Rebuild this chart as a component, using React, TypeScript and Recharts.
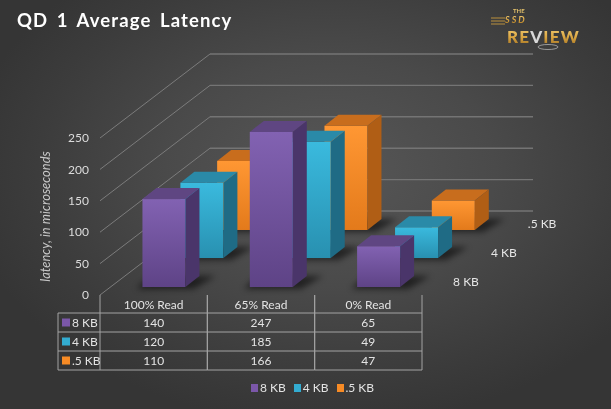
import { ComposedChart, Bar, XAxis, YAxis, CartesianGrid } from "recharts";

const categories = ["100% Read", "65% Read", "0% Read"];
const kb8 = [140, 247, 65];
const kb4 = [120, 185, 49];
const kbHalf = [110, 166, 47];
const yTicks = [0, 50, 100, 150, 200, 250];

const data = categories.map((cat, i) => ({
    cat,
    kb8: kb8[i],
    kb4: kb4[i],
    kbHalf: kbHalf[i],
}));

// series styles, front row first
const SERIES = [
    { key: "kb8", name: "8 KB", values: kb8, depth: 0.095, front: ["#8262b2", "#5e4386"], top: "#5f4682", side: "#4a356a", swatch: "#7b57a9" },
    { key: "kb4", name: "4 KB", values: kb4, depth: 0.44, front: ["#3abade", "#2890b0"], top: "#2a8aa8", side: "#1f6b85", swatch: "#33acd1" },
    { key: "kbHalf", name: ".5 KB", values: kbHalf, depth: 0.774, front: ["#ff9733", "#e37a1b"], top: "#c86d1d", side: "#b05e15", swatch: "#f78b25" },
];

const FONT = "Lato, 'Open Sans', sans-serif";
const W = 611;
const H = 409;
const PLOT_LEFT = 100;
const PLOT_RIGHT = 422;
const BAND = (PLOT_RIGHT - PLOT_LEFT) / categories.length;
const DEPTH_X = 110;
const DEPTH_Y = 84;
const BOX_DX = 14;
const BOX_DY = 11;
const ROW_LINES = [313, 332, 351, 370];
const ROW_TEXT = [322.5, 341.5, 360.5];
const GRID = "#a3a3a3";

const Box3D = (props: any) => {
    const { x, y, width, height, index, s } = props;
    if (x == null || width == null) return null;
    const fx = x + s.depth * DEPTH_X;
    const fy = y - s.depth * DEPTH_Y;
    const w = width;
    const h = height;
    const base = fy + h;
    const gid = `grad-${s.key}`;
    return (
        <g>
            <defs>
                <linearGradient id={gid} x1="0" y1="0" x2="0" y2="1">
                    <stop offset="0%" stopColor={s.front[0]} />
                    <stop offset="100%" stopColor={s.front[1]} />
                </linearGradient>
                <filter id="shadowBlur" x="-50%" y="-50%" width="200%" height="200%">
                    <feGaussianBlur stdDeviation="3" />
                </filter>
            </defs>
            <polygon
                points={`${fx - 6},${base + 2} ${fx + w + 8},${base + 2} ${fx + w + 8 + BOX_DX + 8},${base - BOX_DY} ${fx - 6 + BOX_DX},${base - BOX_DY}`}
                fill="#000"
                opacity={0.55}
                filter="url(#shadowBlur)"
            />
            <rect x={fx} y={fy} width={w} height={h} fill={`url(#${gid})`} />
            <polygon
                points={`${fx},${fy} ${fx + w},${fy} ${fx + w + BOX_DX},${fy - BOX_DY} ${fx + BOX_DX},${fy - BOX_DY}`}
                fill={s.top}
            />
            <polygon
                points={`${fx + w},${fy} ${fx + w + BOX_DX},${fy - BOX_DY} ${fx + w + BOX_DX},${base - BOX_DY} ${fx + w},${base}`}
                fill={s.side}
            />
            {index === categories.length - 1 && (
                <text
                    x={fx + w + 53}
                    y={base - 6}
                    fill="#e6e6e6"
                    fontSize={12}
                    fontFamily={FONT}
                    dominantBaseline="central"
                >
                    {s.name}
                </text>
            )}
        </g>
    );
};

// perspective grid: side wall diagonal + back wall line for every y tick
const WallLine = (p: any) => {
    const { x1, y1, x2 } = p;
    return (
        <g key={p.key}>
            <line x1={x1} y1={y1} x2={x1 + DEPTH_X} y2={y1 - DEPTH_Y} stroke="#7c7c7c" strokeWidth={1} />
            <line x1={x1 + DEPTH_X} y1={y1 - DEPTH_Y} x2={x2 + DEPTH_X + 1} y2={y1 - DEPTH_Y} stroke="#747474" strokeWidth={1.4} />
        </g>
    );
};

// data table drawn under each category
const TableTick = (props: any) => {
    const { x, payload } = props;
    const i = payload.index;
    const left = x - BAND / 2;
    const right = x + BAND / 2;
    const top = 295;
    const last = ROW_LINES[ROW_LINES.length - 1];
    return (
        <g fontFamily={FONT} fontSize={12} fill="#e3e3e3">
            <line x1={left} y1={top} x2={left} y2={last} stroke={GRID} />
            <line x1={right} y1={top} x2={right} y2={last} stroke={GRID} />
            {ROW_LINES.map((ly) => (
                <line key={ly} x1={i === 0 ? 58 : left} y1={ly} x2={right} y2={ly} stroke={GRID} />
            ))}
            {i === 0 && <line x1={58} y1={ROW_LINES[0]} x2={58} y2={last} stroke={GRID} />}
            <text x={x} y={304.5} textAnchor="middle" dominantBaseline="central">
                {payload.value}
            </text>
            {SERIES.map((s, r) => (
                <text key={s.key} x={x} y={ROW_TEXT[r]} textAnchor="middle" dominantBaseline="central">
                    {s.values[i]}
                </text>
            ))}
            {i === 0 &&
                SERIES.map((s, r) => (
                    <g key={s.key}>
                        <rect x={62} y={ROW_TEXT[r] - 4} width={8} height={8} fill={s.swatch} />
                        <text x={72} y={ROW_TEXT[r]} dominantBaseline="central">
                            {s.name}
                        </text>
                    </g>
                ))}
        </g>
    );
};

const YLabel = (props: any) => {
    const vb = props.viewBox || {};
    const cx = 45;
    const cy = (vb.y ?? 138) + (vb.height ?? 157) / 2;
    return (
        <text
            x={cx}
            y={cy}
            transform={`rotate(-90, ${cx}, ${cy})`}
            textAnchor="middle"
            dominantBaseline="central"
            fill="#c8c8c8"
            fontSize={13}
            fontStyle="italic"
            fontFamily={FONT}
        >
            latency, in microseconds
        </text>
    );
};

const Logo = () => (
    <svg width={120} height={55} style={{ position: "absolute", left: 488, top: 5 }}>
        <defs>
            <linearGradient id="gold" x1="0" y1="0" x2="0" y2="1">
                <stop offset="0%" stopColor="#f6d27a" />
                <stop offset="55%" stopColor="#d9a440" />
                <stop offset="100%" stopColor="#9c6c1e" />
            </linearGradient>
        </defs>
        {[13, 16, 19].map((ly) => (
            <line key={ly} x1={3} y1={ly} x2={17} y2={ly} stroke="#c99a3e" strokeWidth={1.5} opacity={0.6} />
        ))}
        <text x={25} y={8} fontSize={6} fontWeight="bold" fill="#e2c06a" fontFamily={FONT}>
            THE
        </text>
        <text x={17} y={18} fontSize={9} fontWeight="bold" fontStyle="italic" fill="url(#gold)" fontFamily={FONT} letterSpacing={2}>
            SSD
        </text>
        <text x={19} y={38} fontSize={17} fontWeight="900" fill="url(#gold)" fontFamily={FONT} letterSpacing={1.2}>
            RE<tspan fill="#d8d8d8">V</tspan>IEW
        </text>
        <ellipse cx={60} cy={42} rx={10} ry={2.5} fill="none" stroke="#9a9a9a" strokeWidth={1} />
    </svg>
);

const App = () => {
    const drawOrder = [...SERIES].reverse();
    return (
        <div
            style={{
                position: "fixed",
                left: 0,
                top: 0,
                width: W,
                height: H,
                overflow: "hidden",
                background:
                    "radial-gradient(ellipse 60% 62% at 54% 42%, #575757 0%, #4a4a4a 45%, #3c3c3c 80%, #353535 100%)",
                fontFamily: FONT,
            }}
        >
            <div
                style={{
                    position: "absolute",
                    left: 17,
                    top: 9,
                    color: "#ffffff",
                    fontSize: 18.5,
                    fontWeight: "bold",
                    letterSpacing: 1.1,
                    wordSpacing: 3,
                }}
            >
                QD 1 Average Latency
            </div>
            <Logo />
            <ComposedChart
                width={W}
                height={H}
                data={data}
                margin={{ top: 138, right: W - PLOT_RIGHT, bottom: 0, left: 0 }}
                barSize={43}
                barGap={-43}
                style={{ position: "absolute", left: 0, top: 0 }}
            >
                <CartesianGrid vertical={false} horizontal={WallLine} />
                <XAxis
                    dataKey="cat"
                    height={114}
                    axisLine={false}
                    tickLine={false}
                    tickSize={0}
                    tickMargin={0}
                    interval={0}
                    tick={(p: any) => <TableTick {...p} />}
                />
                <YAxis
                    width={PLOT_LEFT}
                    domain={[0, 250]}
                    ticks={yTicks}
                    axisLine={false}
                    tickLine={false}
                    tickMargin={5}
                    tick={{ fill: "#dcdcdc", fontSize: 12, fontFamily: FONT }}
                    label={<YLabel />}
                />
                {drawOrder.map((s) => (
                    <Bar
                        key={s.key}
                        dataKey={s.key}
                        name={s.name}
                        isAnimationActive={false}
                        shape={(p: any) => <Box3D {...p} s={s} />}
                    />
                ))}
            </ComposedChart>
            <div
                style={{
                    position: "absolute",
                    left: 251,
                    top: 381,
                    display: "flex",
                    fontSize: 12,
                    color: "#e3e3e3",
                    lineHeight: "14px",
                }}
            >
                {SERIES.map((s) => (
                    <div key={s.key} style={{ display: "flex", alignItems: "center", marginRight: 8 }}>
                        <span style={{ width: 7, height: 8, background: s.swatch, marginRight: 2 }} />
                        {s.name}
                    </div>
                ))}
            </div>
        </div>
    );
};

export default App;
